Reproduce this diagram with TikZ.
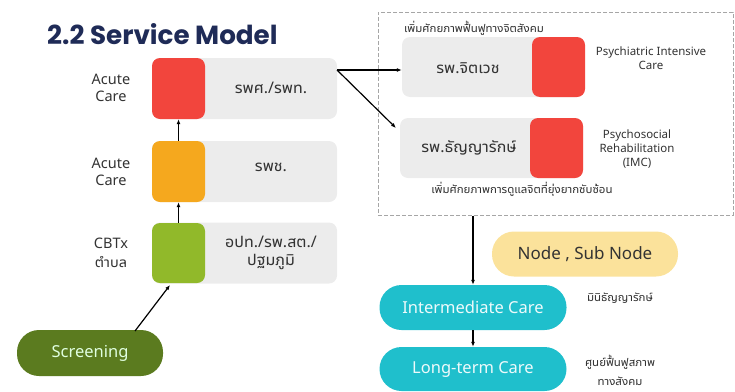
\documentclass[tikz,border=0pt]{standalone}
\usepackage{fontspec}
\setmainfont{Noto Sans}
\newfontfamily\titlefont{Poppins}
\newfontfamily\thaifont[Script=Thai]{Noto Sans Thai UI}
\newcommand{\pp}[1]{{\rmfamily #1}}
\usetikzlibrary{arrows.meta,calc}
\definecolor{titleblue}{HTML}{1F2B57}
\definecolor{sred}{HTML}{F2453D}
\definecolor{sorange}{HTML}{F5A81E}
\definecolor{sgreen}{HTML}{91B92A}
\definecolor{bargray}{HTML}{ECECEC}
\definecolor{screen}{HTML}{5B7B1F}
\definecolor{teal}{HTML}{1FBFCC}
\definecolor{pale}{HTML}{FBE29B}
\definecolor{txt}{HTML}{333333}
\tikzset{
  bar/.style={fill=bargray, draw=none, rounded corners=8pt, minimum height=61pt, inner sep=0pt},
  sq/.style={draw=none, rounded corners=8pt, minimum width=53pt, minimum height=61pt, inner sep=0pt},
  pill/.style={draw=none, rounded corners=22pt, inner sep=0pt},
  lbl/.style={align=center, text=txt, font=\fontsize{14.5}{17}\selectfont},
  bartext/.style={align=center, text=txt, font=\thaifont\fontsize{16}{18}\selectfont},
  small/.style={align=center, text=txt, font=\fontsize{11.5}{14}\selectfont},
  thsmall/.style={align=center, text=txt, inner sep=0pt, font=\thaifont\fontsize{11.5}{14}\selectfont},
  pilltext/.style={font=\fontsize{16.5}{18}\selectfont},
  arr/.style={-{Latex[length=5pt,width=4pt]}, line width=1.2pt, black},
}
\begin{document}
\begin{tikzpicture}[x=1pt,y=-1pt]
\useasboundingbox (0,0) rectangle (735,391);
% title
\node[anchor=west, text=titleblue, font=\titlefont\bfseries\fontsize{26.2}{30}\selectfont, inner sep=0pt] (title) at (47,34) {2.2 Service Model};
% left column
\node[bar, minimum width=185pt] (g1) at (244.5,88.5) {};
\node[bar, minimum width=185pt] (g2) at (244.5,171.5) {};
\node[bar, minimum width=185pt] (g3) at (244.5,253) {};
\node[sq, fill=sred] (s1) at (178.5,88.5) {};
\node[sq, fill=sorange] (s2) at (178.5,171.5) {};
\node[sq, fill=sgreen, minimum height=60pt] (s3) at (178.5,253) {};
\node[bartext] (t1) at (271,88) {รพศ\pp{./}รพท\pp{.}};
\node[bartext] (t2) at (271,167) {รพช\pp{.}};
\node[bartext] (t3) at (271,253) {อปท\pp{./}รพ\pp{.}สต\pp{./}\\ปฐมภูมิ};
\node[lbl] (l1) at (111,88) {Acute\\Care};
\node[lbl] (l2) at (111,172) {Acute\\Care};
\node[lbl] (l3) at (111,243) {CBTx};
\node[lbl, font=\thaifont\fontsize{14.5}{17}\selectfont] (l3b) at (111,262) {ตำบล};
\draw[arr] (s2.north) -- (s1.south);
\draw[arr] (s3.north) -- (s2.south);
% screening
\node[pill, pilltext, fill=screen, minimum width=146pt, minimum height=46pt, text=white!88!green] (scr) at (90,353) {Screening};
\coordinate (scrstart) at (135,331);
\coordinate (scrend) at (170,285);
\draw[arr] (scrstart) -- (scrend);
% dashed group
\node[draw=gray!70, dash pattern=on 4pt off 2pt, line width=1pt, minimum width=355pt, minimum height=203pt, inner sep=0pt] (dbox) at (555.5,113.5) {};
\node[bar, minimum width=181pt, minimum height=60pt] (gA) at (492.5,67) {};
\node[bar, minimum width=183pt, minimum height=60pt] (gB) at (491.5,148) {};
\node[sq, fill=sred, minimum height=60pt] (rA) at (558.5,67) {};
\node[sq, fill=sred, minimum height=60pt] (rB) at (556.5,148) {};
\node[bartext] (tA) at (468,68) {รพ\pp{.}จิตเวช};
\node[bartext] (tB) at (469,148) {รพ\pp{.}ธัญญารักษ์};
\node[thsmall, anchor=west] (capA) at (404,28) {เพิ่มศักยภาพฟื้นฟูทางจิตสังคม};
\node[thsmall] (capB) at (522,189) {เพิ่มศักยภาพการดูแลจิตที่ยุ่งยากซับซ้อน};
\node[small] (pic) at (651,58) {Psychiatric Intensive\\Care};
\node[small] (psr) at (637,149) {Psychosocial\\Rehabilitation\\(IMC)};
\coordinate (fork) at (337,70);
\coordinate (dtip) at (396,128);
\draw[arr] (fork) -- (fork -| gA.west);
\draw[arr] (fork) -- (dtip);
% lower right
\node[pill, fill=pale, minimum width=186pt, minimum height=45pt, text=txt, font=\fontsize{17}{19}\selectfont] (ns) at (585,254) {Node , Sub Node};
\node[pill, pilltext, fill=teal, minimum width=187pt, minimum height=45pt, text=white!92!teal] (ic) at (473,307.5) {Intermediate Care};
\node[pill, pilltext, fill=teal, minimum width=187pt, minimum height=44pt, text=white!92!teal] (lt) at (473,369) {Long-term Care};
\draw[arr] (ic.north |- dbox.south) -- (ic.north);
\draw[arr] (ic.south) -- (lt.north);
\node[thsmall] (mini) at (620,298) {มินิธัญญารักษ์};
\node[thsmall] (sun) at (620,362) {ศูนย์ฟื้นฟูสภาพ};
\node[thsmall] (sun2) at (620,381) {ทางสังคม};
\end{tikzpicture}
\end{document}
